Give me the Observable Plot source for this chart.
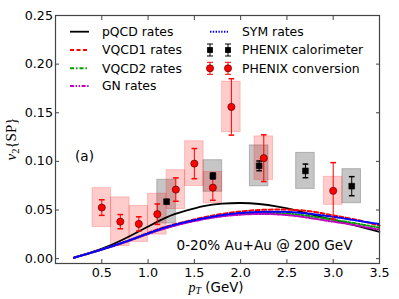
<!DOCTYPE html>
<html><head><meta charset="utf-8">
<script src="https://cdn.jsdelivr.net/npm/d3@7"></script>
<script src="https://cdn.jsdelivr.net/npm/@observablehq/plot@0.6"></script>
<style>body{margin:0;background:#fff}#chart{width:399px;height:299px}</style>
</head><body><div id="chart"></div>
<script>
// theory curves (v2{SP} vs pT)
const pT    = [0.2,0.4,0.6,0.8,1.0,1.2,1.4,1.6,1.8,2.0,2.2,2.4,2.6,2.8,3.0,3.2,3.4,3.5];
const pqcd  = [0.001,0.007,0.014,0.023,0.033,0.0425,0.049,0.054,0.0565,0.0572,0.0562,0.0535,0.0495,0.0445,0.040,0.035,0.030,0.0275];
const vqcd1 = [0.001,0.0065,0.0125,0.019,0.0265,0.033,0.038,0.0425,0.046,0.0485,0.050,0.0505,0.050,0.048,0.0445,0.041,0.0365,0.034];
const vqcd2 = [0.001,0.0065,0.0122,0.0185,0.0255,0.0318,0.037,0.041,0.044,0.046,0.0468,0.0468,0.0455,0.043,0.040,0.037,0.0335,0.032];
const gn    = [0.001,0.0065,0.0122,0.0185,0.0255,0.0315,0.0365,0.0405,0.0435,0.0452,0.046,0.0455,0.0438,0.041,0.038,0.035,0.0315,0.030];
const sym   = [0.001,0.0065,0.0125,0.019,0.026,0.0325,0.0375,0.0415,0.0448,0.047,0.048,0.0483,0.0475,0.0455,0.043,0.040,0.037,0.0355];

// PHENIX conversion
const convX   = [0.5,0.7,0.9,1.1,1.3,1.5,1.7,1.9,2.25,3.0];
const convY   = [0.0525,0.038,0.0357,0.0457,0.071,0.0977,0.073,0.156,0.1033,0.0697];
const convErr = [0.008,0.0073,0.0073,0.0105,0.012,0.0155,0.013,0.029,0.024,0.029];
const convSys = [0.020,0.025,0.0185,0.021,0.020,0.023,0.016,0.026,0.0224,0.0144];

// PHENIX calorimeter
const caloX   = [1.2,1.7,2.2,2.7,3.2];
const caloY   = [0.0586,0.085,0.0954,0.0902,0.0745];
const caloErr = [0.002,0.003,0.005,0.007,0.0098];
const caloSys = [0.0225,0.0162,0.021,0.0185,0.0175];

const xTicks = [0.5,1.0,1.5,2.0,2.5,3.0,3.5];
const yTicks = [0.00,0.05,0.10,0.15,0.20,0.25];

const series = [
  {name:"pQCD rates",  vals:pqcd,  color:"#000000", dash:null,               width:1.8},
  {name:"VQCD1 rates", vals:vqcd1, color:"#ff0000", dash:"4,2.5",            width:2},
  {name:"VQCD2 rates", vals:vqcd2, color:"#00a000", dash:"4,2,1.5,2",        width:2},
  {name:"GN rates",    vals:gn,    color:"#bf00bf", dash:"4,1.6,1.4,1.6,1.4,1.6", width:2},
  {name:"SYM rates",   vals:sym,   color:"#0000ff", dash:"1.4,1.4",          width:2}
];
const curveRows = series.flatMap(s => pT.map((x,i)=>({x, y:s.vals[i], name:s.name})));
const conv = convX.map((x,i)=>({x, y:convY[i], e:convErr[i], s:convSys[i]}));
const calo = caloX.map((x,i)=>({x, y:caloY[i], e:caloErr[i], s:caloSys[i]}));
const halfW = 0.1;

const capSym = {draw(ctx,size){const w=Math.sqrt(size)/2;ctx.moveTo(-w,0);ctx.lineTo(w,0);}};

const marks = [
  Plot.rect(calo,{x1:d=>d.x-halfW,x2:d=>d.x+halfW,y1:d=>d.y-d.s,y2:d=>d.y+d.s,fill:"gray",fillOpacity:0.45,stroke:"gray",strokeOpacity:0.5}),
  Plot.rect(conv,{x1:d=>d.x-halfW,x2:d=>d.x+halfW,y1:d=>d.y-d.s,y2:d=>d.y+d.s,fill:"red",fillOpacity:0.2,stroke:"red",strokeOpacity:0.2}),
];
for (const s of series) {
  marks.push(Plot.line(curveRows.filter(r=>r.name===s.name),{x:"x",y:"y",stroke:s.color,strokeWidth:s.width,strokeDasharray:s.dash,curve:"natural"}));
}
marks.push(
  Plot.ruleX(conv,{x:"x",y1:d=>d.y-d.e,y2:d=>d.y+d.e,stroke:"red",strokeWidth:1}),
  Plot.dot(conv,{x:"x",y:d=>d.y-d.e,symbol:capSym,r:3.2,stroke:"red",fill:"none"}),
  Plot.dot(conv,{x:"x",y:d=>d.y+d.e,symbol:capSym,r:3.2,stroke:"red",fill:"none"}),
  Plot.ruleX(calo,{x:"x",y1:d=>d.y-d.e,y2:d=>d.y+d.e,stroke:"black",strokeWidth:1}),
  Plot.dot(calo,{x:"x",y:d=>d.y-d.e,symbol:capSym,r:3.2,stroke:"black",fill:"none"}),
  Plot.dot(calo,{x:"x",y:d=>d.y+d.e,symbol:capSym,r:3.2,stroke:"black",fill:"none"}),
  Plot.dot(conv,{x:"x",y:"y",r:3.6,fill:"red",stroke:"#400",strokeWidth:0.6}),
  Plot.dot(calo,{x:"x",y:"y",r:3.3,symbol:"square",fill:"black",stroke:"black",strokeWidth:0.5}),
  Plot.axisX({ticks:xTicks,tickFormat:d3.format(".1f"),tickSize:0,tickPadding:4.5,label:null,fontSize:12.7}),
  Plot.axisX({anchor:"bottom",ticks:xTicks,tickSize:-4,fill:"none",label:null,stroke:"#444"}),
  Plot.axisX({anchor:"top",ticks:xTicks,tickSize:-4,fill:"none",label:null,stroke:"#444"}),
  Plot.axisY({ticks:yTicks,tickFormat:d3.format(".2f"),tickSize:0,tickPadding:2.5,label:null,fontSize:12.7}),
  Plot.axisY({anchor:"left",ticks:yTicks,tickSize:-4,fill:"none",label:null,stroke:"#444"}),
  Plot.axisY({anchor:"right",ticks:yTicks,tickSize:-4,fill:"none",label:null,stroke:"#444"}),
  Plot.frame({stroke:"#444",strokeWidth:1.2}),
  Plot.text(["(a)"],{frameAnchor:"top-left",dx:19.5,dy:145,textAnchor:"start",lineAnchor:"bottom",fontSize:13.6}),
  Plot.text(["0-20% Au+Au @ 200 GeV"],{frameAnchor:"top-left",dx:121,dy:234,textAnchor:"start",lineAnchor:"bottom",fontSize:13.6})
);

const svg = Plot.plot({
  width:399,height:299,
  marginLeft:55,marginRight:20,marginTop:15,marginBottom:36,
  style:{fontFamily:"DejaVu Sans",background:"white",color:"black",overflow:"visible"},
  x:{domain:[0,3.5]},
  y:{domain:[-0.005,0.25]},
  marks
});

// titles and legend
const sel = d3.select(svg);
const yt = sel.append("text").attr("transform","translate(16,139) rotate(-90)")
  .attr("text-anchor","middle").attr("font-family","Liberation Serif").attr("font-size",15).attr("fill","black");
yt.append("tspan").attr("font-style","italic").text("v");
yt.append("tspan").attr("font-size",10.5).attr("dy",3).text("2");
yt.append("tspan").attr("dy",-3).text("{SP}");

const xt = sel.append("text").attr("x",216).attr("y",292).attr("text-anchor","middle").attr("fill","black");
xt.append("tspan").attr("font-family","Liberation Serif").attr("font-style","italic").attr("font-size",14).text("p");
xt.append("tspan").attr("font-family","Liberation Serif").attr("font-style","italic").attr("font-size",10).attr("dy",2).text("T");
xt.append("tspan").attr("font-family","DejaVu Sans").attr("font-size",13.4).attr("dy",-2).text(" (GeV)");

const leg = sel.append("g").attr("font-family","DejaVu Sans").attr("font-size",12.4).attr("text-anchor","start").attr("fill","black");
const rowsY = [31.7,50,68.3,86];
const leftEntries = series.slice(0,4);
leftEntries.forEach((s,i)=>{
  leg.append("line").attr("x1",70).attr("x2",89).attr("y1",rowsY[i]).attr("y2",rowsY[i])
    .attr("stroke",s.color).attr("stroke-width",s.width).attr("stroke-dasharray",s.dash);
  leg.append("text").attr("x",102).attr("y",rowsY[i]).attr("dy","0.35em").attr("text-anchor","start").text(s.name);
});
const symS = series[4];
leg.append("line").attr("x1",210).attr("x2",228).attr("y1",rowsY[0]).attr("y2",rowsY[0])
  .attr("stroke",symS.color).attr("stroke-width",symS.width).attr("stroke-dasharray",symS.dash);
leg.append("text").attr("x",242).attr("y",rowsY[0]).attr("dy","0.35em").attr("text-anchor","start").text(symS.name);
[["PHENIX calorimeter","black","sq"],["PHENIX conversion","red","ci"]].forEach(([name,col,m],j)=>{
  const y = rowsY[j+1];
  [210,228].forEach(x=>{
    leg.append("line").attr("x1",x).attr("x2",x).attr("y1",y-6).attr("y2",y+6).attr("stroke",col);
    leg.append("line").attr("x1",x-3).attr("x2",x+3).attr("y1",y-6).attr("y2",y-6).attr("stroke",col);
    leg.append("line").attr("x1",x-3).attr("x2",x+3).attr("y1",y+6).attr("y2",y+6).attr("stroke",col);
    if (m==="sq") leg.append("rect").attr("x",x-2.9).attr("y",y-2.9).attr("width",5.8).attr("height",5.8).attr("fill","black");
    else leg.append("circle").attr("cx",x).attr("cy",y).attr("r",3.6).attr("fill","red").attr("stroke","#400").attr("stroke-width",0.6);
  });
  leg.append("text").attr("x",242).attr("y",y).attr("dy","0.35em").attr("text-anchor","start").text(name);
});

document.getElementById("chart").appendChild(svg);
</script>
</body></html>
